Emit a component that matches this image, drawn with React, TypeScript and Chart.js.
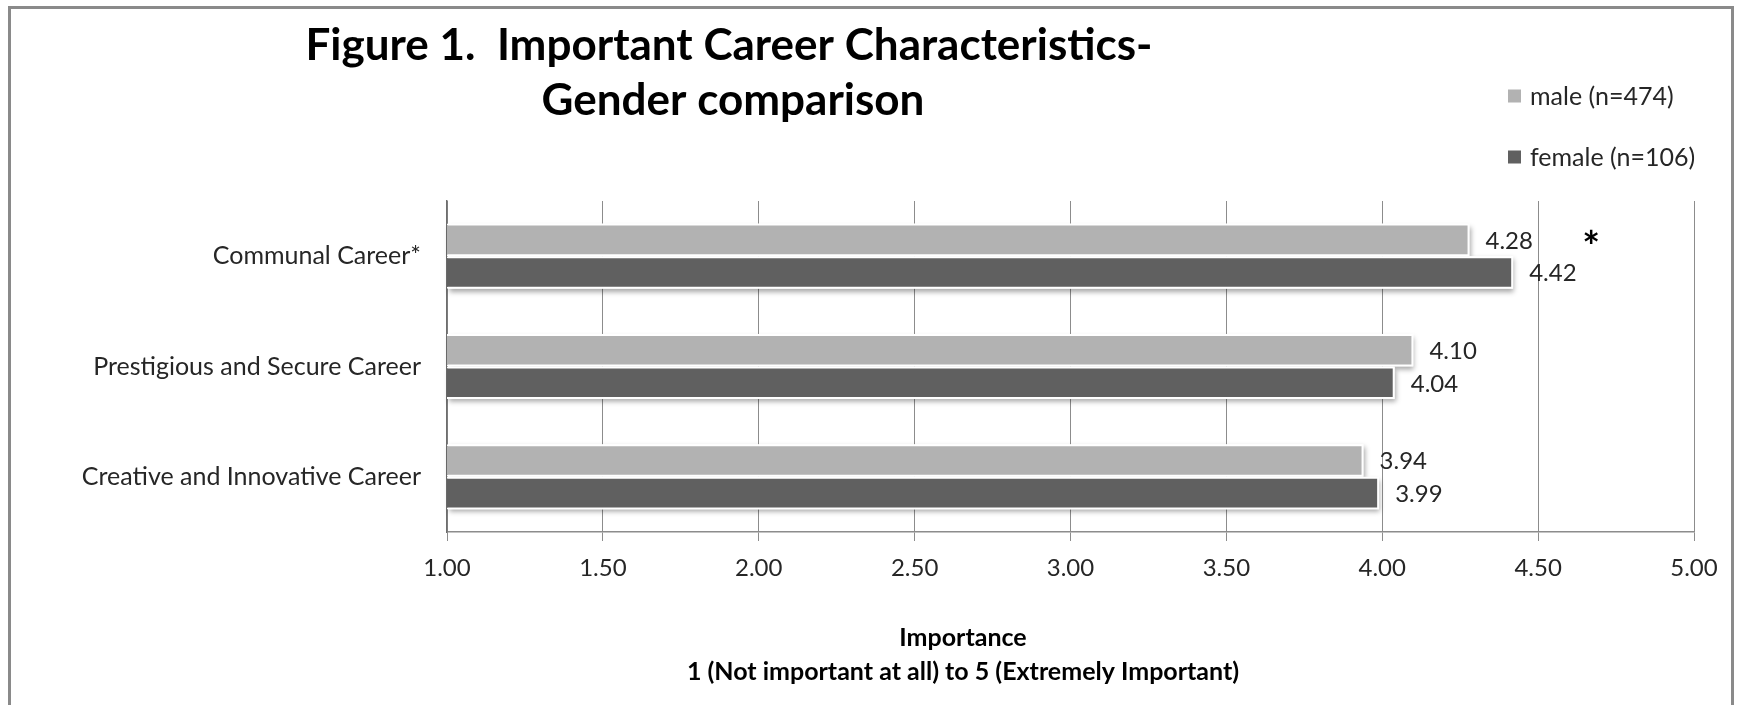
import React, { useEffect, useRef } from "react";
import { Chart, registerables } from "chart.js";

Chart.register(...registerables);

const categories = [
  "Communal Career*",
  "Prestigious and Secure Career",
  "Creative and Innovative Career",
];
const seriesLabels = ["male (n=474)", "female (n=106)"];
const maleValues = [4.28, 4.1, 3.94];
const femaleValues = [4.42, 4.04, 3.99];
const seriesColors = ["#b2b2b2", "#606060"];
const xMin = 1;
const xMax = 5;
const xStep = 0.5;
const titleLines = ["Figure 1.  Important Career Characteristics-", "Gender comparison"];
const axisTitleLines = ["Importance", "1 (Not important at all) to 5 (Extremely Important)"];
const significantCategory = 0;
const asteriskValue = 4.67;

const FONT = "Lato, 'Open Sans', sans-serif";
const TEXT = "#262626";

const annotPlugin = {
  id: "annot",
  beforeDatasetsDraw(chart: any) {
    const ctx = chart.ctx;
    const area = chart.chartArea;
    ctx.save();
    ctx.shadowColor = "rgba(0,0,0,0.35)";
    ctx.shadowBlur = 5;
    ctx.shadowOffsetX = 1;
    ctx.shadowOffsetY = 3;
    ctx.fillStyle = "#ffffff";
    chart.data.datasets.forEach((_d: any, i: number) => {
      const meta = chart.getDatasetMeta(i);
      meta.data.forEach((el: any) => {
        const p = el.getProps(["x", "y", "base", "height"], true);
        const left = Math.max(Math.min(p.base, p.x), area.left + 1);
        const right = Math.max(p.base, p.x);
        ctx.fillRect(left, p.y - p.height / 2, right - left, p.height);
      });
    });
    ctx.restore();
  },
  afterDatasetsDraw(chart: any) {
    const ctx = chart.ctx;
    ctx.save();
    ctx.font = `24px ${FONT}`;
    ctx.fillStyle = TEXT;
    ctx.textAlign = "left";
    ctx.textBaseline = "middle";
    chart.data.datasets.forEach((ds: any, i: number) => {
      const meta = chart.getDatasetMeta(i);
      meta.data.forEach((el: any, j: number) => {
        const p = el.getProps(["x", "y"], true);
        ctx.fillText(Number(ds.data[j]).toFixed(2), p.x + 16, p.y + 1);
      });
    });
    // significance asterisk
    const el0 = chart.getDatasetMeta(0).data[significantCategory];
    if (el0) {
      const y0 = el0.getProps(["y"], true).y;
      ctx.font = `bold 42px ${FONT}`;
      ctx.fillStyle = "#000";
      ctx.textAlign = "center";
      ctx.textBaseline = "alphabetic";
      ctx.fillText("*", chart.scales.x.getPixelForValue(asteriskValue), y0 + 22);
    }
    ctx.restore();
  },
  afterDraw(chart: any) {
    const ctx = chart.ctx;
    ctx.save();
    ctx.fillStyle = "#000";
    ctx.textAlign = "center";
    ctx.textBaseline = "middle";
    ctx.font = `bold 44px ${FONT}`;
    ctx.fillText(titleLines[0], 729, 46);
    ctx.fillText(titleLines[1], 733, 101);

    // legend
    ctx.textAlign = "left";
    ctx.font = `25px ${FONT}`;
    const legendY = [96, 157];
    chart.data.datasets.forEach((ds: any, i: number) => {
      const cy = legendY[i];
      ctx.fillStyle = ds.backgroundColor;
      ctx.fillRect(1508, cy - 6.5, 13, 13);
      ctx.fillStyle = TEXT;
      ctx.fillText(ds.label, 1530, cy + 1);
    });

    // axis title
    ctx.fillStyle = "#000";
    ctx.textAlign = "center";
    ctx.font = `bold 25px ${FONT}`;
    ctx.fillText(axisTitleLines[0], 963, 638);
    ctx.fillText(axisTitleLines[1], 963, 672);
    ctx.restore();
  },
};

export default function App() {
  const ref = useRef<HTMLCanvasElement | null>(null);
  useEffect(() => {
    if (!ref.current) return;
    const chart = new Chart(ref.current, {
      type: "bar",
      data: {
        labels: categories,
        datasets: [
          {
            label: seriesLabels[0],
            data: maleValues,
            backgroundColor: seriesColors[0],
            borderColor: "#ffffff",
            borderWidth: 2,
            borderSkipped: "start",
            barPercentage: 1,
            categoryPercentage: 0.59,
          },
          {
            label: seriesLabels[1],
            data: femaleValues,
            backgroundColor: seriesColors[1],
            borderColor: "#ffffff",
            borderWidth: 2,
            borderSkipped: "start",
            barPercentage: 1,
            categoryPercentage: 0.59,
          },
        ],
      },
      options: {
        indexAxis: "y",
        responsive: false,
        animation: false,
        devicePixelRatio: 1,
        layout: { padding: { top: 201, right: 47, bottom: 113, left: 0 } },
        plugins: {
          legend: { display: false },
          title: { display: false },
          tooltip: { enabled: false },
        },
        scales: {
          x: {
            type: "linear",
            min: xMin,
            max: xMax,
            ticks: {
              stepSize: xStep,
              callback: (v: any) => Number(v).toFixed(2),
              font: { family: FONT, size: 24 },
              color: TEXT,
              padding: 13,
              maxRotation: 0,
              autoSkip: false,
            },
            grid: { color: "#8c8c8c", lineWidth: 1, tickLength: 9, drawTicks: true },
            border: { color: "#8c8c8c", width: 1.5 },
            afterFit: (s: any) => {
              s.height = 60;
            },
          },
          y: {
            ticks: { font: { family: FONT, size: 25 }, color: TEXT, padding: 26 },
            grid: { display: false, drawTicks: false },
            border: { display: true, color: "#6e6e6e", width: 1.5 },
            afterFit: (s: any) => {
              s.width = 447;
            },
          },
        },
      },
      plugins: [annotPlugin],
    } as any);
    return () => chart.destroy();
  }, []);

  return (
    <div style={{ position: "fixed", left: 0, top: 0, width: 1741, height: 705, background: "#fff" }}>
      <canvas ref={ref} width={1741} height={705} style={{ position: "absolute", left: 0, top: 0 }} />
      <div
        style={{
          position: "absolute",
          left: 8,
          top: 6,
          width: 1726,
          height: 720,
          border: "3px solid #8a8a8a",
          boxSizing: "border-box",
          pointerEvents: "none",
        }}
      />
    </div>
  );
}
